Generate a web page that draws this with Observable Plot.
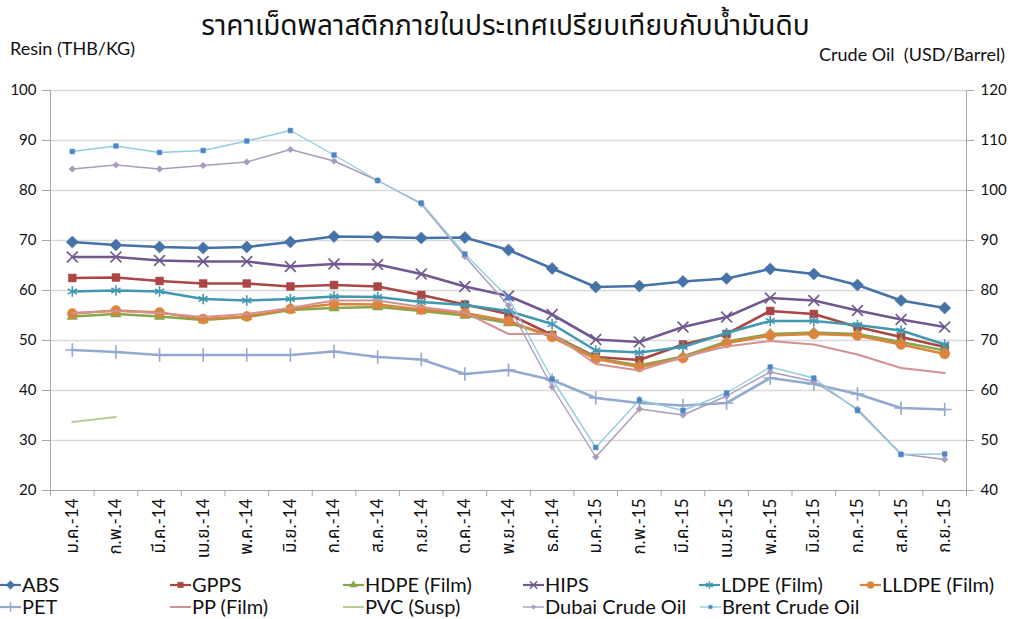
<!DOCTYPE html>
<html><head><meta charset="utf-8">
<script src="https://cdn.jsdelivr.net/npm/d3@7"></script>
<script src="https://cdn.jsdelivr.net/npm/@observablehq/plot@0.6"></script>
<style>
body{margin:0;background:#fff;}
#wrap{position:relative;width:1011px;height:619px;overflow:hidden;font-family:Lato,"Noto Sans Thai","Noto Sans",sans-serif;color:#111;}
#wrap .t{position:absolute;white-space:nowrap;}
#plot{position:absolute;left:0;top:0;}
#legend{position:absolute;left:0;top:560px;}
</style></head><body><div id="wrap">
<div class="t" id="title" style="left:0;width:1011px;text-align:center;top:5px;font-size:28px;">ราคาเม็ดพลาสติกภายในประเทศเปรียบเทียบกับน้ำมันดิบ</div>
<div class="t" style="left:10px;top:37px;font-size:18px;">Resin (THB/KG)</div>
<div class="t" style="right:6px;top:43px;font-size:18px;">Crude Oil&nbsp; (USD/Barrel)</div>
<div id="plot"></div>
<div id="legend"></div>
</div>
<script>
const months = ["ม.ค.-14","ก.พ.-14","มี.ค.-14","เม.ย.-14","พ.ค.-14","มิ.ย.-14","ก.ค.-14","ส.ค.-14","ก.ย.-14","ต.ค.-14","พ.ย.-14","ธ.ค.-14","ม.ค.-15","ก.พ.-15","มี.ค.-15","เม.ย.-15","พ.ค.-15","มิ.ย.-15","ก.ค.-15","ส.ค.-15","ก.ย.-15"];
const resinTicks = [20,30,40,50,60,70,80,90,100];
const crudeTicks = [40,50,60,70,80,90,100,110,120];

// Resin prices (THB/KG), left axis
const ABS   = [69.7,69.1,68.7,68.5,68.7,69.7,70.8,70.7,70.5,70.6,68.1,64.4,60.7,60.9,61.8,62.4,64.3,63.3,61.1,58.0,56.5];
const GPPS  = [62.5,62.6,61.9,61.4,61.4,60.8,61.1,60.8,59.1,57.2,55.3,51.1,46.7,46.1,49.2,51.3,55.9,55.3,52.7,50.7,48.7];
const HDPE  = [54.8,55.3,54.8,54.1,54.7,56.1,56.5,56.7,55.9,55.0,53.5,51.0,46.5,45.0,46.8,49.8,51.3,51.6,51.3,49.7,48.0];
const HIPS  = [66.7,66.7,66.0,65.8,65.8,64.8,65.3,65.2,63.3,60.8,58.9,55.2,50.2,49.7,52.7,54.7,58.5,58.0,56.0,54.2,52.7];
const LDPE  = [59.8,60.0,59.8,58.3,58.0,58.3,58.8,58.7,57.7,57.1,55.9,53.3,48.0,47.6,48.7,51.5,53.9,53.9,53.1,52.0,49.2];
const LLDPE = [55.4,56.0,55.6,54.3,54.8,56.3,57.3,57.2,56.2,55.5,53.9,50.7,46.3,44.7,46.5,49.5,51.0,51.3,51.0,49.2,47.3];
const PET   = [48.1,47.7,47.1,47.1,47.1,47.1,47.8,46.7,46.2,43.3,44.1,42.1,38.5,37.5,37.0,37.5,42.5,41.3,39.3,36.5,36.2];
const PP    = [55.5,55.9,55.5,54.7,55.3,56.5,58.0,58.0,56.7,55.6,51.3,51.3,45.3,44.0,46.7,48.8,49.9,49.2,47.2,44.5,43.5];
const PVC   = [33.7,34.7,null,null,null,null,null,null,null,null,null,null,null,null,null,null,null,null,null,null,null];
// Crude oil (USD/Barrel), right axis
const Dubai = [104.3,105.1,104.3,105.0,105.7,108.2,105.9,102.0,97.3,86.8,77.0,60.7,46.7,56.3,55.1,58.9,63.7,61.8,56.3,47.3,46.2];
const Brent = [107.8,108.9,107.6,108.0,109.9,112.0,107.1,102.0,97.5,87.3,78.5,62.3,48.6,58.1,56.0,59.5,64.7,62.5,56.0,47.2,47.3];

const series = [
  {name:"ABS", values:ABS, axis:"left", color:"#4572A7", w:2.6, sym:"diamond2", r:5.5, filled:true},
  {name:"GPPS", values:GPPS, axis:"left", color:"#AA4643", w:2.6, sym:"square2", r:5, filled:true},
  {name:"HDPE (Film)", values:HDPE, axis:"left", color:"#89A54E", w:2.6, sym:"triangle2", r:5, filled:true},
  {name:"HIPS", values:HIPS, axis:"left", color:"#71588F", w:2.6, sym:"times", r:5, filled:false},
  {name:"LDPE (Film)", values:LDPE, axis:"left", color:"#4198AF", w:2.6, sym:"asterisk", r:5, filled:false},
  {name:"LLDPE (Film)", values:LLDPE, axis:"left", color:"#DB843D", w:2.6, sym:"circle", r:5, filled:true},
  {name:"PET", values:PET, axis:"left", color:"#93A9CF", w:2.6, sym:"plus", r:4.5, filled:false},
  {name:"PP (Film)", values:PP, axis:"left", color:"#D19392", w:2, sym:null},
  {name:"PVC (Susp)", values:PVC, axis:"left", color:"#B9CD96", w:2, sym:null},
  {name:"Dubai Crude Oil", values:Dubai, axis:"right", color:"#A99BBD", w:1.4, sym:"diamond2", r:3, filled:true, mcolor:"#A99BBD"},
  {name:"Brent Crude Oil", values:Brent, axis:"right", color:"#93CDDD", w:1.4, sym:"square2", r:3, filled:true, mcolor:"#4A86C8"}
];

const marks = [];
marks.push(Plot.ruleY(resinTicks.slice(1), {stroke:"#d9d9d9", strokeWidth:1.5}));
marks.push(Plot.axisY({anchor:"left", ticks:resinTicks, tickSize:8, tickPadding:6, label:null, stroke:"#a6a6a6", fill:"#111"}));
marks.push(Plot.axisY({anchor:"right", ticks:resinTicks, tickFormat:d => String(d + 20), tickSize:7, tickPadding:7, label:null, stroke:"#a6a6a6", fill:"#111"}));
marks.push(Plot.ruleX([-0.5, 20.5], {stroke:"#a6a6a6", strokeWidth:1}));
marks.push(Plot.ruleY([20], {stroke:"#a6a6a6", strokeWidth:1}));
marks.push(Plot.axisX({ticks:d3.range(-0.5, 21, 1), tickFormat:() => "", tickSize:6, stroke:"#a6a6a6", label:null}));
marks.push(Plot.axisX({ticks:d3.range(0, 21), tickFormat:i => months[i], tickSize:0, tickPadding:8, tickRotate:-90, label:null, fill:"#111", fontSize:17}));

for (const s of series) {
  const rows = s.values.map((v, i) => ({i, y: v == null ? null : (s.axis === "right" ? v - 20 : v)})).filter(d => d.y != null);
  marks.push(Plot.line(rows, {x:"i", y:"y", stroke:s.color, strokeWidth:s.w, strokeLinejoin:"round"}));
  if (s.sym) {
    const mc = s.mcolor || s.color;
    marks.push(Plot.dot(rows, {x:"i", y:"y", symbol:s.sym, r:s.r,
      fill: s.filled ? mc : "none", stroke: mc, strokeWidth: s.filled ? 0.5 : 1.6}));
  }
}

const chart = Plot.plot({
  width:1011, height:560,
  marginTop:90, marginBottom:70, marginLeft:50, marginRight:45,
  x:{type:"linear", domain:[-0.5, 20.5], axis:null},
  y:{domain:[20, 100], axis:null},
  style:{fontSize:"15px", fontFamily:'Lato,"Noto Sans Thai","Noto Sans",sans-serif', background:"transparent", color:"#111"},
  marks
});
document.getElementById("plot").appendChild(chart);

// Legend
const cols = [22, 192, 365, 545, 721, 882];
const rowsY = [585, 607];
const lg = d3.select("#legend").append("svg").attr("width", 1011).attr("height", 59);
series.forEach((s, k) => {
  const row = k < 6 ? 0 : 1;
  const col = k < 6 ? k : k - 6;
  const tx = cols[col] + (k === 10 ? 1 : 0);
  const y = rowsY[row] - 560;
  const g = lg.append("g");
  g.append("line").attr("x1", tx - 22).attr("x2", tx - 1).attr("y1", y).attr("y2", y)
    .attr("stroke", s.color).attr("stroke-width", Math.min(s.w, 2.2));
  if (s.sym) {
    const mc = s.mcolor || s.color;
    const symMap = {diamond2:d3.symbolDiamond2, square2:d3.symbolSquare2, triangle2:d3.symbolTriangle2, times:d3.symbolTimes, asterisk:d3.symbolAsterisk, circle:d3.symbolCircle, plus:d3.symbolPlus};
    const r = s.r * 0.7;
    g.append("path").attr("d", d3.symbol(symMap[s.sym], Math.PI * r * r)())
      .attr("transform", `translate(${tx - 11.5},${y})`)
      .attr("fill", s.filled ? mc : "none").attr("stroke", mc).attr("stroke-width", s.filled ? 0.5 : 1.4);
  }
  g.append("text").attr("x", tx).attr("y", y).attr("dy", "0.36em").attr("font-size", 20)
    .attr("font-family", 'Lato,"Noto Sans",sans-serif').attr("fill", "#111").text(s.name);
});
</script></body></html>
